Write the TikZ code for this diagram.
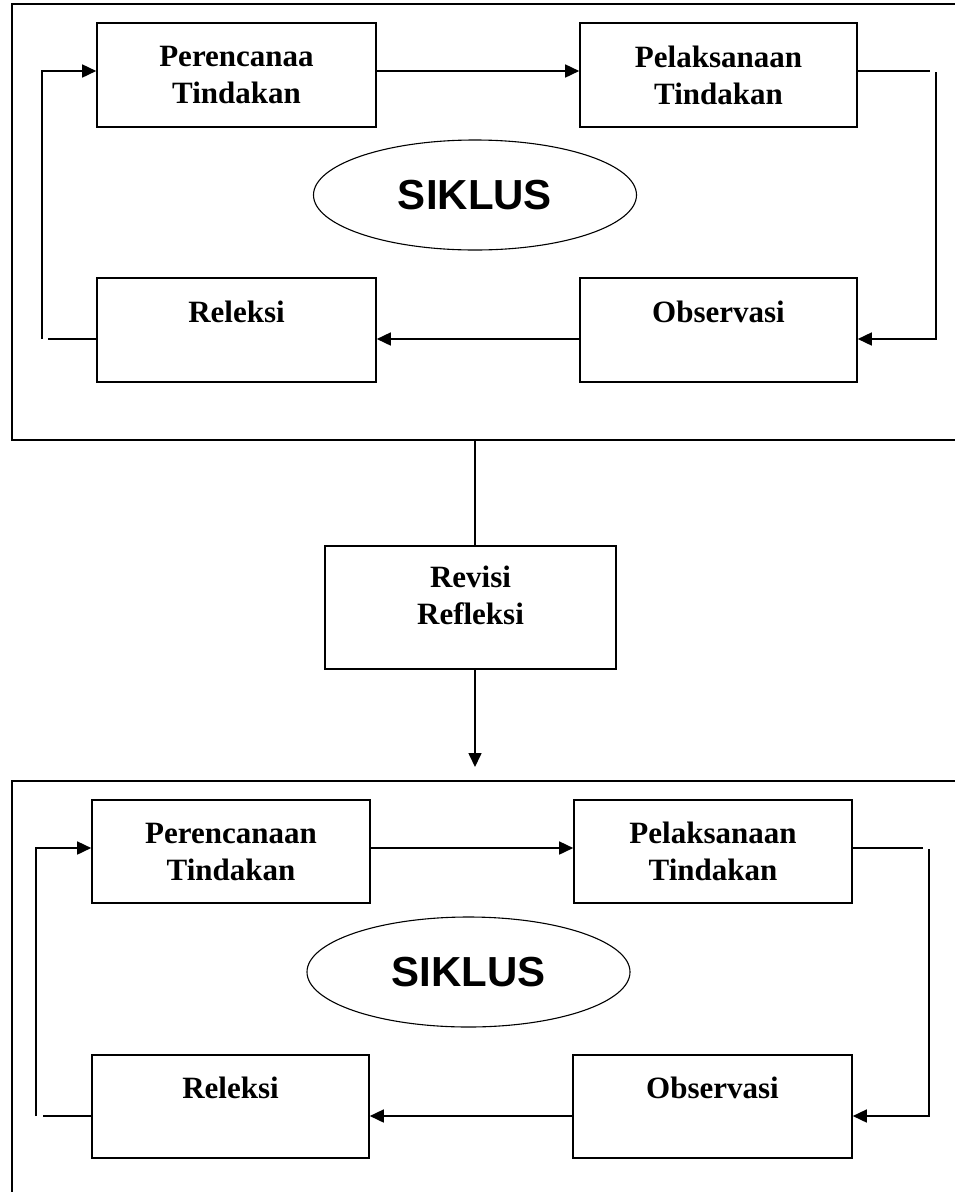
\documentclass[tikz,border=0pt]{standalone}
\usepackage{fontspec}
\setmainfont{Liberation Serif}
\newfontfamily\arialfont{Liberation Sans}
\usetikzlibrary{shapes.geometric,arrows.meta}
\newcommand\txtfont{\fontsize{31}{37}\selectfont\bfseries}
\newcommand\sikfont{\arialfont\fontsize{42}{50}\selectfont\bfseries}
\tikzset{
  cbox/.style={draw, rectangle, line width=1.6pt, minimum width=279pt, minimum height=104pt,
               inner sep=0pt, align=center, font=\txtfont},
  oval/.style={draw, ellipse, line width=1.1pt, minimum width=323pt, minimum height=110pt,
               inner sep=0pt, font=\sikfont},
  conn/.style={line width=1.6pt},
  arr/.style={conn, -{Triangle[length=14pt,width=13pt]}},
  frame/.style={line width=1.6pt}
}
\begin{document}
\begin{tikzpicture}[x=1pt,y=-1pt]
\useasboundingbox (0,0) rectangle (955,1192);
% ---------- upper cycle ----------
\draw[frame] (975,4) -- (12,4) -- (12,440) -- (975,440);
\coordinate (f1b) at (475,440);
\node[cbox] (p1) at (236.5,75) {Perencanaa\\Tindakan};
\node[cbox, minimum width=277pt] (p2) at (718.5,75) {Pelaksanaan\\Tindakan};
\node[cbox] (r1) at (236.5,330) {Releksi\\~};
\node[cbox, minimum width=277pt] (o1) at (718.5,330) {Observasi\\~};
\node[oval] (s1) at (475,195) {SIKLUS};
\coordinate (a1) at (0,71);
\coordinate (a2) at (0,339);
\coordinate (rt1) at (930,71);
\coordinate (rt2) at (936,72);
\coordinate (rt3) at (936,339);
\coordinate (lt1) at (48,339);
\coordinate (lt2) at (42,339);
\coordinate (lt3) at (42,71);
\draw[arr] (p1.east |- a1) -- (p2.west |- a1);
\draw[conn] (p2.east |- a1) -- (rt1);
\draw[arr] (rt2) -- (rt3) -- (o1.east |- rt3);
\draw[arr] (o1.west |- a2) -- (r1.east |- a2);
\draw[conn] (r1.west |- a2) -- (lt1);
\draw[arr] (lt2) -- (lt3) -- (p1.west |- lt3);
% ---------- revision ----------
\node[cbox, minimum width=291pt, minimum height=123pt] (rv) at (470.5,607.5) {Revisi\\Refleksi\\[-13pt]~};
\coordinate (mend) at (475,767);
\draw[conn] (f1b) -- (f1b |- rv.north);
\draw[arr] (f1b |- rv.south) -- (mend);
% ---------- lower cycle ----------
\draw[frame] (975,781) -- (12,781) -- (12,1200);
\node[cbox, minimum width=278pt, minimum height=103pt] (p3) at (231,851.5) {Perencanaan\\Tindakan};
\node[cbox, minimum width=278pt, minimum height=103pt] (p4) at (713,851.5) {Pelaksanaan\\Tindakan};
\node[cbox, minimum width=277pt, minimum height=103pt] (r2) at (230.5,1106.5) {Releksi\\~};
\node[cbox, minimum width=279pt, minimum height=103pt] (o2) at (712.5,1106.5) {Observasi\\~};
\node[oval] (s2) at (468.5,972) {SIKLUS};
\coordinate (b1) at (0,848);
\coordinate (b2) at (0,1116);
\coordinate (rb1) at (923,848);
\coordinate (rb2) at (929,849);
\coordinate (rb3) at (929,1116);
\coordinate (lb1) at (43,1116);
\coordinate (lb2) at (36,1116);
\coordinate (lb3) at (36,848);
\draw[arr] (p3.east |- b1) -- (p4.west |- b1);
\draw[conn] (p4.east |- b1) -- (rb1);
\draw[arr] (rb2) -- (rb3) -- (o2.east |- rb3);
\draw[arr] (o2.west |- b2) -- (r2.east |- b2);
\draw[conn] (r2.west |- b2) -- (lb1);
\draw[arr] (lb2) -- (lb3) -- (p3.west |- lb3);
\end{tikzpicture}
\end{document}
